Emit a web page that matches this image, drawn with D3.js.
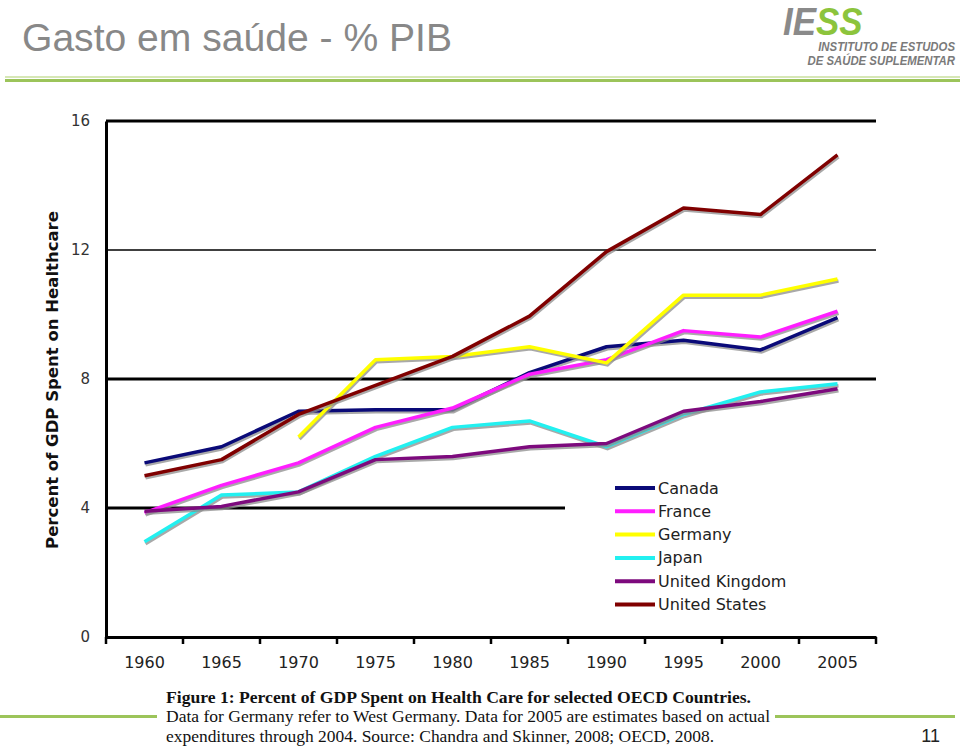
<!DOCTYPE html>
<html><head><meta charset="utf-8">
<script src="https://cdn.jsdelivr.net/npm/d3@7"></script>
<style>body{margin:0;background:#fff;}svg{display:block;}</style>
</head><body>
<script>
const years = ["1960","1965","1970","1975","1980","1985","1990","1995","2000","2005"];
const yTicks = [0,4,8,12,16];
const canada  = [5.4,5.9,7.0,7.05,7.05,8.2,9.0,9.2,8.9,9.9];
const france  = [3.85,4.7,5.4,6.5,7.1,8.15,8.6,9.5,9.3,10.1];
const germany = [null,null,6.2,8.6,8.7,9.0,8.5,10.6,10.6,11.1];
const japan   = [2.95,4.4,4.5,5.6,6.5,6.7,5.9,6.9,7.6,7.85];
const uk      = [3.9,4.05,4.5,5.5,5.6,5.9,6.0,7.0,7.3,7.7];
const us      = [5.0,5.5,6.9,7.8,8.7,9.95,11.95,13.3,13.1,14.95];
const seriesNames = ["Canada","France","Germany","Japan","United Kingdom","United States"];
const seriesColors = ["#0a0a78","#ff1eff","#ffff00","#22f0f0","#7d0a7d","#800000"];
const seriesValues = [canada,france,germany,japan,uk,us];

const W=960,H=746;
const svg=d3.select("body").append("svg").attr("width",W).attr("height",H);

// Header
svg.append("text").attr("x",22).attr("y",51).attr("font-family","Liberation Sans, Arial, sans-serif")
  .attr("font-size",38).attr("fill","#888").attr("textLength",430).attr("lengthAdjust","spacingAndGlyphs")
  .text("Gasto em saúde - % PIB");
const logo=svg.append("g");
const big=logo.append("text").attr("transform","translate(783,34.5) scale(0.92,1)")
  .attr("font-family","Liberation Sans, Arial, sans-serif")
  .attr("font-weight","bold").attr("font-style","italic").attr("font-size",38);
big.append("tspan").attr("fill","#8a8a8a").text("IE");
big.append("tspan").attr("fill","#8cc43c").text("SS");
logo.append("text").attr("transform","translate(955,51) scale(0.91,1)").attr("text-anchor","end")
  .attr("font-family","Liberation Sans, Arial, sans-serif")
  .attr("font-weight","bold").attr("font-style","italic").attr("font-size",12.5).attr("fill","#7a7a7a")
  .text("INSTITUTO DE ESTUDOS");
logo.append("text").attr("transform","translate(955,64.5) scale(0.91,1)").attr("text-anchor","end")
  .attr("font-family","Liberation Sans, Arial, sans-serif")
  .attr("font-weight","bold").attr("font-style","italic").attr("font-size",12.5).attr("fill","#7a7a7a")
  .text("DE SAÚDE SUPLEMENTAR");
svg.append("line").attr("x1",5).attr("x2",960).attr("y1",77).attr("y2",77).attr("stroke","#c8df9e").attr("stroke-width",1.5);
svg.append("line").attr("x1",5).attr("x2",960).attr("y1",80.5).attr("y2",80.5).attr("stroke","#9cc45a").attr("stroke-width",3);

// Chart
const x0=106,x1=876,yTop=121,yBot=637;
const x=d3.scaleBand().domain(years).range([x0,x1]);
const y=d3.scaleLinear().domain([0,16]).range([yBot,yTop]);
const g=svg.append("g");

// grid lines
const gridW={4:3,8:3,12:1.6,16:3};
yTicks.filter(t=>t>0).forEach(t=>{
  g.append("line").attr("x1",x0).attr("x2",x1).attr("y1",y(t)).attr("y2",y(t))
   .attr("stroke","#000").attr("stroke-width",gridW[t]);
});

// y axis
const ya=g.append("g").attr("transform",`translate(${x0},0)`)
  .call(d3.axisLeft(y).tickValues(yTicks).tickSize(0).tickPadding(16));
ya.select(".domain").attr("stroke","#000").attr("stroke-width",3);
ya.selectAll("text").attr("font-family","DejaVu Sans, Verdana, sans-serif").attr("font-size",15).attr("fill","#333");

// x axis
const xa=g.append("g").attr("transform",`translate(0,${yBot})`)
  .call(d3.axisBottom(x).tickSize(0).tickPadding(20));
xa.select(".domain").attr("stroke","#000").attr("stroke-width",3);
xa.selectAll("text").attr("font-family","DejaVu Sans, Verdana, sans-serif").attr("font-size",16).attr("fill","#222");
const bounds=years.map(d=>x(d)).concat([x1]);
g.selectAll(".xt").data(bounds).enter().append("line")
  .attr("x1",d=>d).attr("x2",d=>d).attr("y1",yBot).attr("y2",yBot+7).attr("stroke","#000").attr("stroke-width",2.5);

// y title
svg.append("text").attr("transform","translate(58,380) rotate(-90)").attr("text-anchor","middle")
  .attr("font-family","DejaVu Sans, Verdana, sans-serif").attr("font-weight","bold").attr("font-size",16.5)
  .attr("fill","#111").text("Percent of GDP Spent on Healthcare");

// legend background
const lg=svg.append("g");
lg.append("rect").attr("x",565).attr("y",472).attr("width",315).attr("height",150).attr("fill","#fff");

// lines
const line=d3.line().defined(d=>d.v!=null).x(d=>x(d.yr)+x.bandwidth()/2).y(d=>y(d.v));
seriesValues.forEach((vals,i)=>{
  const data=years.map((yr,j)=>({yr,v:vals[j]}));
  g.append("path").datum(data).attr("d",line).attr("fill","none").attr("stroke","#8c8c8c")
   .attr("stroke-opacity",0.75).attr("stroke-width",3.5).attr("transform","translate(1,2)");
  g.append("path").datum(data).attr("d",line).attr("fill","none").attr("stroke",seriesColors[i])
   .attr("stroke-width",3.5).attr("stroke-linejoin","round");
});

// legend
seriesNames.forEach((n,i)=>{
  const yy=488+i*23.3;
  lg.append("line").attr("x1",615).attr("x2",655).attr("y1",yy).attr("y2",yy).attr("stroke",seriesColors[i]).attr("stroke-width",4);
  lg.append("text").attr("x",658).attr("y",yy+5.5).attr("font-family","DejaVu Sans, Verdana, sans-serif")
    .attr("font-size",16).attr("fill","#222").text(n);
});

// caption
svg.append("line").attr("x1",0).attr("x2",157).attr("y1",716.5).attr("y2",716.5).attr("stroke","#9cc45a").attr("stroke-width",3);
svg.append("line").attr("x1",775).attr("x2",955).attr("y1",716.5).attr("y2",716.5).attr("stroke","#9cc45a").attr("stroke-width",3);
const cap=[{t:"Figure 1:  Percent of GDP Spent on Health Care for selected OECD Countries.",b:true,y:703,l:585},
 {t:"Data for Germany refer to West Germany. Data for 2005 are estimates based on actual",b:false,y:722,l:604},
 {t:"expenditures through 2004. Source: Chandra and Skinner, 2008; OECD, 2008.",b:false,y:742,l:548}];
cap.forEach(c=>{
  svg.append("text").attr("x",166).attr("y",c.y).attr("font-family","Liberation Serif, Times New Roman, serif")
    .attr("font-size",16.5).attr("font-weight",c.b?"bold":"normal").attr("fill","#111")
    .attr("textLength",c.l).attr("lengthAdjust","spacingAndGlyphs").text(c.t);
});
svg.append("text").attr("x",940).attr("y",742).attr("text-anchor","end").attr("font-family","Liberation Sans, Arial, sans-serif")
  .attr("font-size",18).attr("fill","#222").text("11");
</script>
</body></html>
